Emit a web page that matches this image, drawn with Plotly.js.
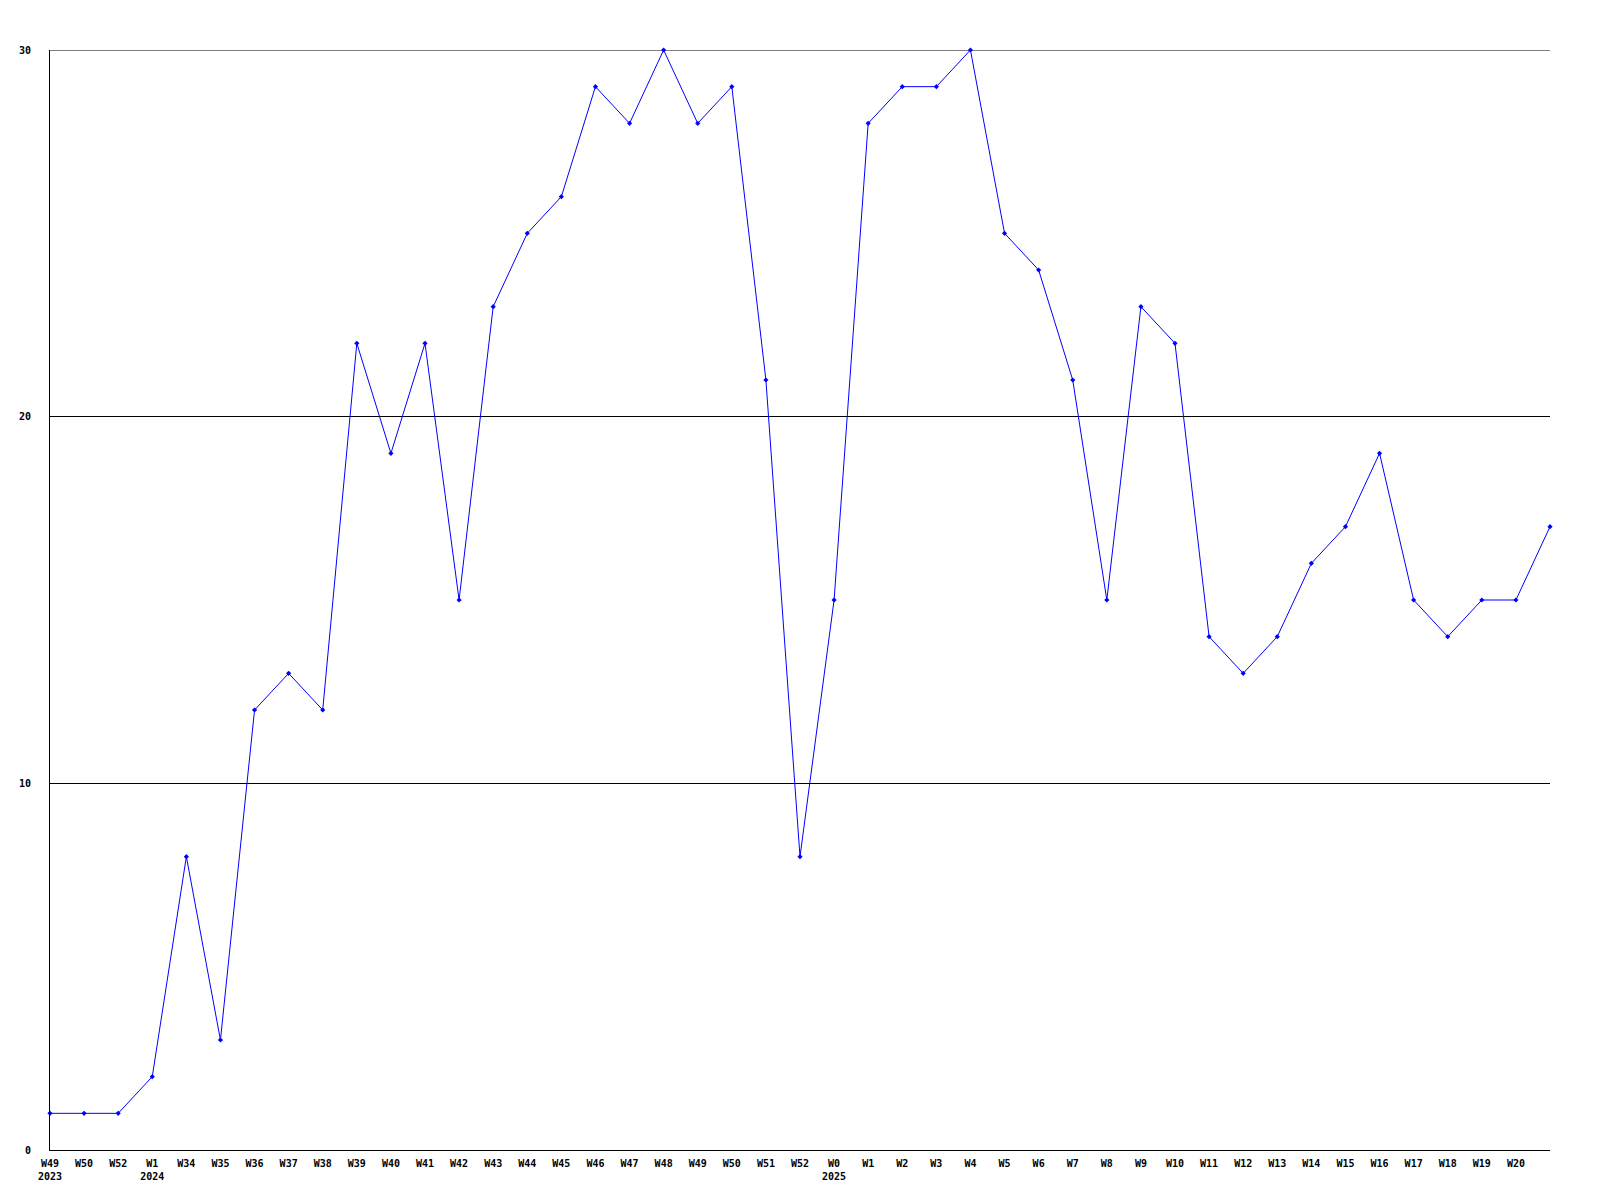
<!DOCTYPE html>
<html>
<head>
<meta charset="utf-8">
<script src="https://cdn.plot.ly/plotly-3.0.1.min.js"></script>
<style>html,body{margin:0;padding:0;background:#fff;}#chart{width:1600px;height:1200px;}</style>
</head>
<body>
<div id="chart"></div>
<script>
const weekLabels = ["W49","W50","W52","W1","W34","W35","W36","W37","W38","W39","W40","W41","W42","W43","W44","W45","W46","W47","W48","W49","W50","W51","W52","W0","W1","W2","W3","W4","W5","W6","W7","W8","W9","W10","W11","W12","W13","W14","W15","W16","W17","W18","W19","W20",""];
const yearLabels = ["2023","","","2024","","","","","","","","","","","","","","","","","","","","2025","","","","","","","","","","","","","","","","","","","","",""];
const values = [1,1,1,2,8,3,12,13,12,22,19,22,15,23,25,26,29,28,30,28,29,21,8,15,28,29,29,30,25,24,21,15,23,22,14,13,14,16,17,19,15,14,15,15,17];
const yTicks = [0,10,20,30];

const xIdx = values.map((_, i) => i);
const tickText = weekLabels.map((w, i) => yearLabels[i] ? w + "<br>" + yearLabels[i] : w);
const yMax = yTicks[yTicks.length - 1];

Plotly.newPlot("chart", [{
  x: xIdx,
  y: values,
  type: "scatter",
  mode: "lines+markers",
  line: {color: "#0000ff", width: 1},
  marker: {symbol: "diamond", size: 4, color: "#0000ff"},
  cliponaxis: false,
  hoverinfo: "skip"
}], {
  width: 1600, height: 1200,
  margin: {l: 50, r: 50, t: 50, b: 50},
  paper_bgcolor: "#fff", plot_bgcolor: "#fff",
  showlegend: false,
  font: {family: "DejaVu Sans Mono", size: 10, color: "#000"},
  shapes: [{
    type: "line", xref: "paper", yref: "y",
    x0: 0, x1: 1, y0: yMax, y1: yMax,
    line: {color: "#000", width: 1}, layer: "below"
  }],
  xaxis: {
    range: [0, values.length - 1],
    tickmode: "array", tickvals: xIdx, ticktext: tickText,
    showgrid: false, zeroline: false,
    showline: true, linecolor: "#000", linewidth: 1,
    ticks: "", ticklabelstandoff: 4,
    tickfont: {family: "DejaVu Sans Mono", size: 10, color: "#000", weight: "bold"},
    tickangle: 0, fixedrange: true
  },
  yaxis: {
    range: [0, yMax],
    tickmode: "array", tickvals: yTicks, ticktext: yTicks.map(String),
    showgrid: true, gridcolor: "#000", gridwidth: 1,
    zeroline: false,
    showline: true, linecolor: "#000", linewidth: 1,
    ticks: "", ticklabelstandoff: 16,
    tickfont: {family: "DejaVu Sans Mono", size: 10, color: "#000", weight: "bold"},
    fixedrange: true
  }
}, {displayModeBar: false, staticPlot: true});
</script>
</body>
</html>
